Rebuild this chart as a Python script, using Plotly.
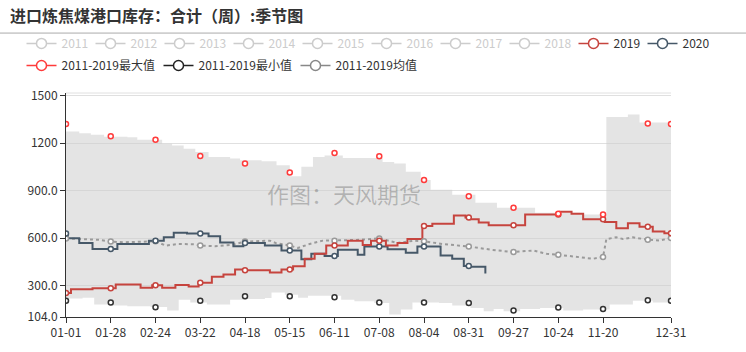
import numpy as np
import plotly.graph_objects as go

# ---------------- data ----------------
tick_days = [0, 27, 54, 81, 108, 135, 162, 189, 216, 243, 270, 297, 324, 365]
tick_labels = ["01-01", "01-28", "02-24", "03-22", "04-18", "05-15", "06-11",
               "07-08", "08-04", "08-31", "09-27", "10-24", "11-20", "12-31"]
marker_days = [0, 27, 54, 81, 108, 135, 162, 189, 216, 243, 270, 297, 324, 351, 365]

y_tick_vals = [104, 300, 600, 900, 1200, 1500]
y_tick_text = ["104.0", "300.0", "600.0", "900.0", "1200", "1500"]

band_top_days = [0, 8, 15, 23, 37, 43, 58, 64, 71, 78, 86, 99, 105, 118, 127, 135, 142,
                 149, 156, 167, 191, 198, 205, 214, 220, 233, 247, 260, 283, 310, 326,
                 339, 346, 365]
band_top_vals = [1273, 1262, 1252, 1240, 1236, 1221, 1195, 1184, 1164, 1143, 1112, 1102,
                 1091, 1085, 1060, 990, 1050, 1112, 1122, 1105, 1081, 1071, 1019, 967,
                 905, 874, 823, 792, 761, 750, 1364, 1380, 1329, 1329]

band_bot_days = [0, 10, 17, 26, 37, 51, 61, 68, 75, 85, 99, 109, 120, 124, 132, 140, 146,
                 166, 174, 186, 195, 202, 209, 225, 233, 244, 252, 258, 264, 274, 286,
                 300, 312, 328, 342, 354, 365]
band_bot_vals = [221, 226, 182, 176, 172, 167, 145, 213, 196, 182, 213, 218, 223, 258, 244,
                 226, 238, 213, 203, 192, 120, 151, 196, 192, 176, 161, 141, 155, 141,
                 155, 161, 145, 151, 182, 207, 196, 196]

y2019_days = [0, 3, 16, 30, 45, 52, 58, 66, 74, 80, 88, 95, 102, 108, 123, 130, 137, 144,
              150, 157, 170, 179, 184, 193, 200, 206, 215, 221, 234, 241, 244, 249, 255,
              277, 298, 305, 312, 325, 332, 339, 346, 354, 361, 365]
y2019_vals = [255, 279, 285, 308, 288, 304, 288, 306, 296, 319, 358, 372, 403, 399, 384,
              403, 424, 471, 502, 554, 585, 558, 585, 554, 570, 595, 678, 692, 744, 730,
              719, 699, 682, 750, 767, 754, 719, 703, 663, 694, 672, 643, 632, 632]

y2020_days = [0, 1, 8, 16, 31, 50, 59, 65, 73, 86, 93, 101, 107, 120, 130, 142, 148, 156,
              164, 176, 180, 194, 205, 212, 226, 233, 240, 244, 253]
y2020_vals = [630, 600, 570, 533, 564, 585, 606, 635, 630, 612, 573, 550, 570, 554, 523,
              467, 502, 488, 527, 496, 548, 531, 508, 548, 492, 471, 426, 420, 378]

avg_days = [0, 8, 20, 27, 35, 45, 54, 60, 65, 68, 78, 81, 90, 100, 108, 123, 127, 135, 140,
            147, 155, 162, 175, 189, 194, 200, 210, 216, 227, 243, 257, 270, 282, 290, 297,
            310, 318, 324, 326, 332, 336, 342, 351, 358, 365]
avg_vals = [599, 595, 590, 579, 575, 578, 581, 554, 558, 564, 562, 554, 550, 558, 579, 585,
            568, 554, 539, 564, 585, 585, 589, 599, 585, 570, 585, 581, 564, 548, 527, 513,
            523, 502, 496, 482, 471, 482, 595, 606, 595, 606, 591, 585, 602]

max_vals = [1319, 1242, 1221, 1118, 1071, 1015, 1137, 1116, 967, 864, 792, 754, 750, 1323, 1319]
min_vals = [207, 195, 165, 207, 234, 234, 229, 196, 196, 192, 145, 164, 155, 209, 207]

hidden_years_a = ["2011", "2012", "2013", "2014", "2015"]
hidden_years_b = ["2016", "2017", "2018"]

# ---------------- style ----------------
C19 = "#c6443e"
C20 = "#465868"
CMAX = "#ff3b3b"
CMIN = "#333333"
CAVG = "#9a9a9a"
FONT = "Noto Sans CJK SC, Noto Sans, sans-serif"


def step_at(days, vals, d):
    idx = [i for i, x in enumerate(days) if x <= d]
    return vals[idx[-1]]


fig = go.Figure()

# band
fig.add_trace(go.Scatter(x=band_bot_days, y=band_bot_vals, mode="lines", line=dict(width=0, shape="hv"),
                         showlegend=False, hoverinfo="skip"))
fig.add_trace(go.Scatter(x=band_top_days, y=band_top_vals, mode="lines", line=dict(width=0, shape="hv"),
                         fill="tonexty", fillcolor="rgba(205,205,205,0.55)", showlegend=False,
                         hoverinfo="skip"))

# average
fig.add_trace(go.Scatter(x=avg_days, y=avg_vals, mode="lines",
                         line=dict(color=CAVG, width=2, dash="dot"), showlegend=False))
# 2020
fig.add_trace(go.Scatter(x=y2020_days, y=y2020_vals, mode="lines",
                         line=dict(color=C20, width=2, shape="hv"), showlegend=False))
# 2019
fig.add_trace(go.Scatter(x=y2019_days, y=y2019_vals, mode="lines",
                         line=dict(color=C19, width=2, shape="hv"), showlegend=False))

# markers
mk = dict(symbol="circle", size=5, color="white")
avg_m = list(np.interp(marker_days, avg_days, avg_vals))
m20_days = [d for d in marker_days if d <= y2020_days[-1]]
m20 = [step_at(y2020_days, y2020_vals, d) for d in m20_days]
m19 = [step_at(y2019_days, y2019_vals, d) for d in marker_days]
for xs, ys, col in [(marker_days, avg_m, CAVG), (m20_days, m20, C20), (marker_days, m19, C19),
                    (marker_days, max_vals, CMAX), (marker_days, min_vals, CMIN)]:
    fig.add_trace(go.Scatter(x=xs, y=ys, mode="markers",
                             marker=dict(**mk, line=dict(color=col, width=1.5)),
                             showlegend=False))

# legend entries
lm = dict(symbol="circle", size=10, color="white")


def legend_entry(name, col, legend):
    fig.add_trace(go.Scatter(x=[None], y=[None], mode="lines+markers", name=name,
                             line=dict(color=col, width=1.5),
                             marker=dict(**lm, line=dict(color=col, width=1.5)),
                             legend=legend))


for yr in hidden_years_a:
    legend_entry('<span style="color:#cccccc">%s</span>' % yr, "#cccccc", "legend")
for yr in hidden_years_b:
    legend_entry('<span style="color:#cccccc">%s</span>' % yr, "#cccccc", "legend3")
legend_entry("2019", C19, "legend3")
legend_entry("2020", C20, "legend3")
for nm, col in [("2011-2019最大值", CMAX), ("2011-2019最小值", "#222222"), ("2011-2019均值", "#888888")]:
    legend_entry(nm, col, "legend2")

W, H = 746, 352
L, R, T, B = 66, 75, 93, 31
pw, ph = W - L - R, H - T - B


def px_x(p):
    return (p - L) / pw


def px_y(p):
    return (H - B - p) / ph


def leg(xp, yp, ew):
    return dict(orientation="h", x=px_x(xp), xanchor="left", y=px_y(yp), yanchor="middle",
                entrywidth=ew, entrywidthmode="pixels", bgcolor="rgba(0,0,0,0)",
                traceorder="normal",
                font=dict(family=FONT, size=12, color="#333"), itemclick=False, itemdoubleclick=False)


fig.update_layout(
    width=W, height=H,
    margin=dict(l=L, r=R, t=T, b=B),
    paper_bgcolor="white", plot_bgcolor="white",
    font=dict(family=FONT, size=12, color="#333"),
    title=dict(text="进口炼焦煤港口库存：合计（周）:季节图", x=10 / W, xref="container", xanchor="left",
               y=1 - 16.5 / H, yref="container", yanchor="middle",
               font=dict(family=FONT, size=16, color="#333", weight="bold")),
    legend=leg(21.5, 42.5, 24),
    legend3=leg(366.5, 42.5, 24),
    legend2=leg(21.5, 65, 92),
    xaxis=dict(range=[0, 365], tickvals=tick_days, ticktext=tick_labels, showgrid=False,
               zeroline=False, showline=True, linecolor="#333", linewidth=1,
               ticks="outside", ticklen=5, tickcolor="#333",
               tickfont=dict(family=FONT, size=12, color="#333")),
    yaxis=dict(range=[104, 1515], tickvals=y_tick_vals, ticktext=y_tick_text, showgrid=True,
               gridcolor="#e0e0e0", zeroline=False, showline=True, linecolor="#333", linewidth=1,
               ticks="outside", ticklen=5, tickcolor="#333",
               tickfont=dict(family=FONT, size=12, color="#333")),
    showlegend=True,
)

# separator line under title and top grid line
fig.add_shape(type="line", xref="paper", yref="paper", x0=px_x(0), x1=px_x(W), y0=px_y(32), y1=px_y(32),
              line=dict(color="#aaaaaa", width=1))
fig.add_shape(type="line", xref="paper", yref="paper", x0=0, x1=1, y0=1, y1=1,
              line=dict(color="#e0e0e0", width=1), layer="below")

fig.add_annotation(text="作图：天风期货", xref="paper", yref="paper", x=px_x(344), y=px_y(195),
                   showarrow=False, font=dict(family=FONT, size=22, color="rgba(0,0,0,0.22)"))

fig.write_html("out.html")
